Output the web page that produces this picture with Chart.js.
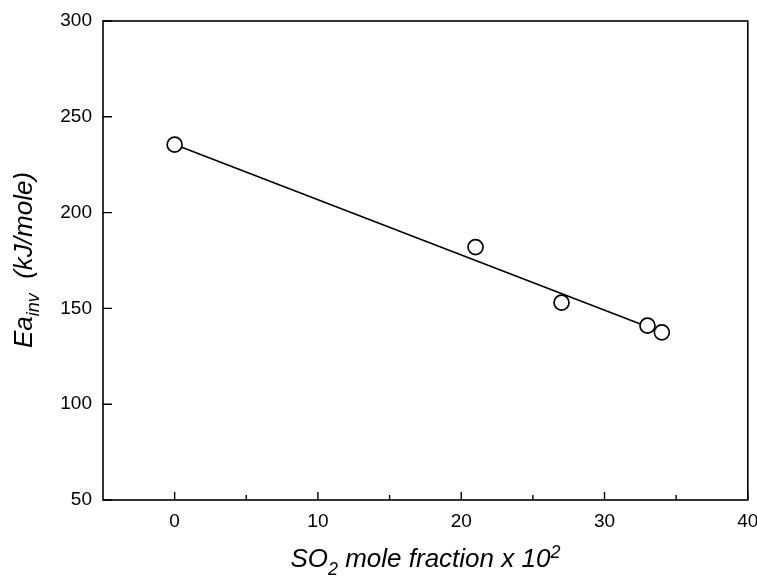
<!DOCTYPE html>
<html lang="en">
  <head>
    <meta charset="UTF-8" />
    <title>Ea inv vs SO2 mole fraction</title>
    <style>
      html, body { margin: 0; padding: 0; background: #fff; }
      #wrap { width: 757px; height: 576px; }
    </style>
  </head>
  <body>
    <div id="wrap"><canvas id="myChart" width="757" height="576"></canvas></div>
    <script src="https://cdn.jsdelivr.net/npm/chart.js@4.4.1/dist/chart.umd.min.js"></script>
    <script>
      // measured points
      var so2Fraction = [0, 21, 27, 33, 34];
      var eaInv = [235.5, 182, 153, 141, 137.5];

      // fitted line end points
      var fitX = [0, 34];
      var fitY = [235.5, 137.6];

      var xTicks = [0, 10, 20, 30, 40];
      var xMinorTicks = [5, 15, 25, 35];
      var yTicks = [50, 100, 150, 200, 250, 300];

      var FONT = "'Liberation Sans', Arial, sans-serif";

      function toPoints(xs, ys) {
        return xs.map(function (x, i) {
          return { x: x, y: ys[i] };
        });
      }

      // draws a run of text pieces (for sub/superscripts) starting at x
      function drawParts(ctx, parts, cx, base) {
        var w = 0;
        parts.forEach(function (p) {
          ctx.font = p.f;
          p.w = ctx.measureText(p.t).width;
          w += p.w;
        });
        var x = cx - w / 2;
        parts.forEach(function (p) {
          ctx.font = p.f;
          ctx.fillText(p.t, x, base + p.dy);
          x += p.w;
        });
      }

      // box round the plot, inward ticks, axis titles
      var framePlugin = {
        id: "frame",
        afterDraw: function (chart) {
          var ctx = chart.ctx;
          var a = chart.chartArea;
          var xs = chart.scales.x;
          var ys = chart.scales.y;
          ctx.save();
          ctx.strokeStyle = "#000";
          ctx.lineWidth = 1.6;
          ctx.strokeRect(a.left, a.top, a.right - a.left, a.bottom - a.top);

          ctx.lineWidth = 1.4;
          ctx.beginPath();
          xTicks.forEach(function (v) {
            var px = xs.getPixelForValue(v);
            ctx.moveTo(px, a.bottom);
            ctx.lineTo(px, a.bottom - 8);
          });
          xMinorTicks.forEach(function (v) {
            var px = xs.getPixelForValue(v);
            ctx.moveTo(px, a.bottom);
            ctx.lineTo(px, a.bottom - 5);
          });
          yTicks.forEach(function (v) {
            var py = ys.getPixelForValue(v);
            ctx.moveTo(a.left, py);
            ctx.lineTo(a.left + 9, py);
          });
          ctx.stroke();

          ctx.fillStyle = "#000";
          ctx.textBaseline = "alphabetic";
          var big = "italic 26px " + FONT;
          var small = "italic 18px " + FONT;

          drawParts(
            ctx,
            [
              { t: "SO", f: big, dy: 0 },
              { t: "2", f: small, dy: 8 },
              { t: " mole fraction x 10", f: big, dy: 0 },
              { t: "2", f: small, dy: -9 },
            ],
            (a.left + a.right) / 2,
            567
          );

          ctx.translate(32, 260);
          ctx.rotate(-Math.PI / 2);
          drawParts(
            ctx,
            [
              { t: "Ea", f: big, dy: 0 },
              { t: "inv", f: small, dy: 7 },
              { t: "  (kJ/mole)", f: big, dy: 0 },
            ],
            0,
            0
          );
          ctx.restore();
        },
      };

      var ctx = document.getElementById("myChart").getContext("2d");
      var myChart = new Chart(ctx, {
        type: "scatter",
        data: {
          datasets: [
            {
              label: "fit",
              data: toPoints(fitX, fitY),
              showLine: true,
              borderColor: "#000",
              borderWidth: 1.6,
              pointRadius: 0,
              order: 2,
            },
            {
              label: "Ea inv",
              data: toPoints(so2Fraction, eaInv),
              pointRadius: 7.5,
              pointBorderWidth: 1.7,
              pointBackgroundColor: "#fff",
              pointBorderColor: "#000",
              order: 1,
            },
          ],
        },
        options: {
          responsive: false,
          animation: false,
          devicePixelRatio: 1,
          layout: { padding: { top: 21, right: 9, left: 0, bottom: 0 } },
          plugins: {
            legend: { display: false },
            tooltip: { enabled: false },
          },
          scales: {
            x: {
              type: "linear",
              min: -5,
              max: 40,
              grid: { display: false, drawTicks: false },
              border: { display: false },
              afterBuildTicks: function (scale) {
                scale.ticks = xTicks.map(function (v) {
                  return { value: v };
                });
              },
              afterFit: function (scale) {
                scale.height = 76;
                scale.paddingLeft = 0;
                scale.paddingRight = 0;
              },
              ticks: {
                color: "#000",
                padding: 10,
                maxRotation: 0,
                font: { family: FONT, size: 19 },
              },
            },
            y: {
              type: "linear",
              min: 50,
              max: 300,
              grid: { display: false, drawTicks: false },
              border: { display: false },
              afterBuildTicks: function (scale) {
                scale.ticks = yTicks.map(function (v) {
                  return { value: v };
                });
              },
              afterFit: function (scale) {
                scale.width = 103;
                scale.paddingTop = 0;
                scale.paddingBottom = 0;
              },
              ticks: {
                color: "#000",
                padding: 11,
                font: { family: FONT, size: 19 },
              },
            },
          },
        },
        plugins: [framePlugin],
      });
    </script>
  </body>
</html>
